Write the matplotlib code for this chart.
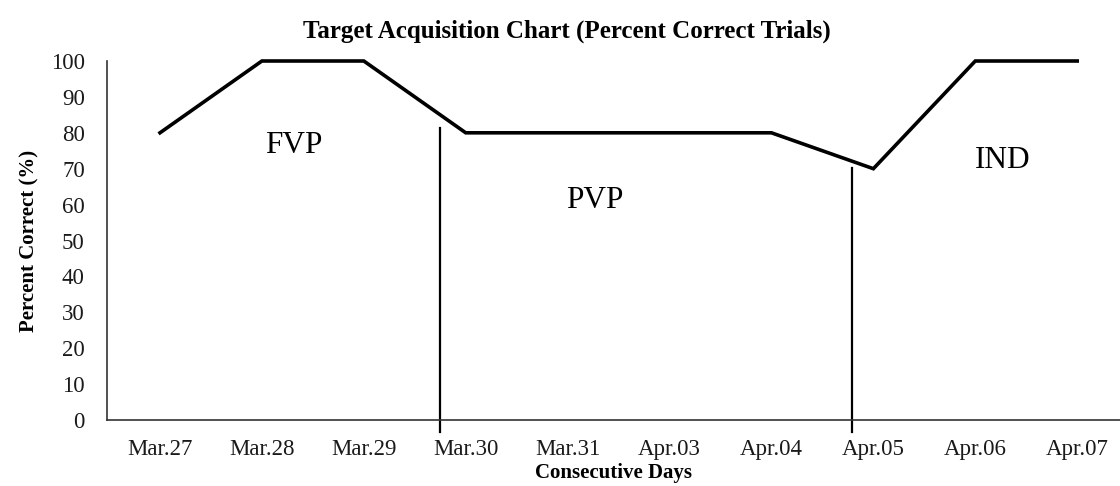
import matplotlib
matplotlib.use("Agg")
import matplotlib.pyplot as plt

days = ["Mar.27", "Mar.28", "Mar.29", "Mar.30", "Mar.31",
        "Apr.03", "Apr.04", "Apr.05", "Apr.06", "Apr.07"]
percent_correct = [80, 100, 100, 80, 80, 80, 80, 70, 100, 100]
phase_lines = [(2.75, 81.3), (6.79, 70.2)]  # (x position, top value)
phase_labels = ["FVP", "PVP", "IND"]
phase_label_pos = [(1.31, 74.3), (4.27, 59.0), (8.27, 70.2)]  # baseline positions

plt.rcParams['font.family'] = ['Liberation Serif', 'DejaVu Serif']

fig = plt.figure(figsize=(11.2, 4.86), dpi=100)
ax = fig.add_axes([107/1120, 66/486, 1 - 107/1120, 359/486])

x = list(range(len(days)))
ax.plot(x, percent_correct, color='black', lw=2.6, solid_joinstyle='miter', clip_on=False)

for (px, top) in phase_lines:
    ax.plot([px, px], [-3.3, top], color='black', lw=1.6, clip_on=False)

for lab, (px, py) in zip(phase_labels, phase_label_pos):
    ax.text(px, py, lab, fontsize=22.5, ha='center', va='baseline', color='black')

ax.set_xlim(-0.52, 9.42)
ax.set_ylim(0, 100)
ax.set_xticks(x)
ax.set_xticklabels(days)
ax.set_yticks(range(0, 101, 10))
ax.tick_params(axis='both', length=0, labelsize=16.5, colors='#1a1a1a')
ax.tick_params(axis='y', pad=16)
ax.tick_params(axis='x', pad=14)

for s in ['top', 'right']:
    ax.spines[s].set_visible(False)
for s in ['left', 'bottom']:
    ax.spines[s].set_color('#333333')
    ax.spines[s].set_linewidth(1.2)

ax.set_xlabel("Consecutive Days", fontsize=15, fontweight='bold', labelpad=1.5)
ax.set_ylabel("Percent Correct (%)", fontsize=15, fontweight='bold', labelpad=8)
fig.text(567/1120, 1 - 31/486, "Target Acquisition Chart (Percent Correct Trials)",
         fontsize=18, fontweight='bold', ha='center', va='center')

fig.savefig("out.png", dpi=100)
